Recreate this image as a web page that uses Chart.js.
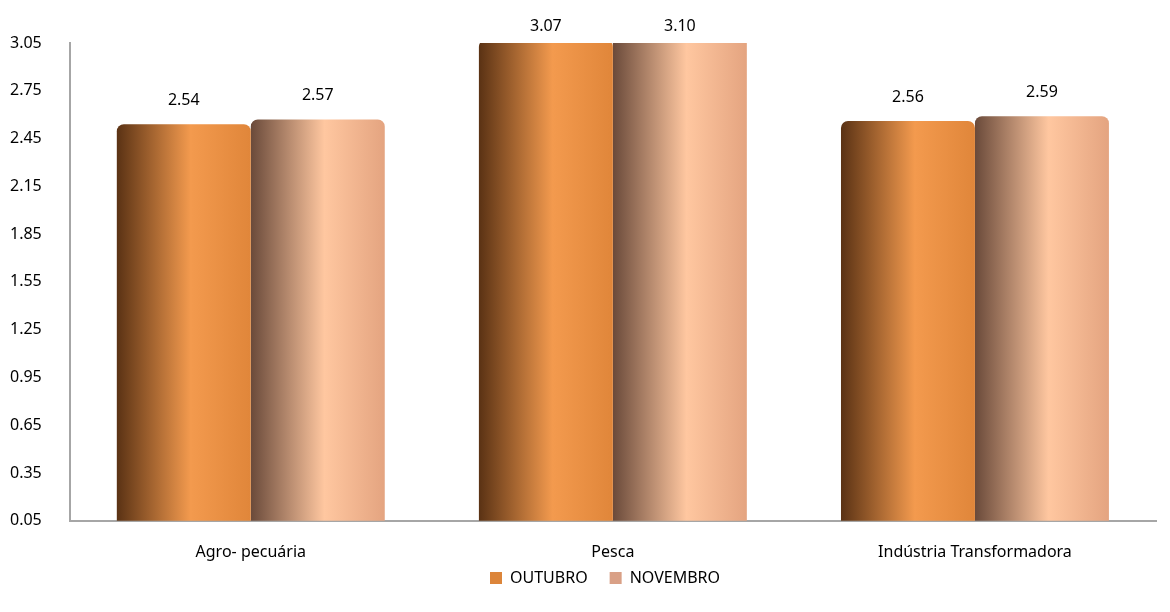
<!DOCTYPE html>
<html>
<head>
<meta charset="utf-8">
<script src="https://cdn.jsdelivr.net/npm/chart.js@4/dist/chart.umd.min.js"></script>
<style>
  html, body { margin: 0; padding: 0; background: #fff; }
  #wrap { position: relative; width: 1170px; height: 612px; }
</style>
</head>
<body>
<div id="wrap"><canvas id="chart"></canvas></div>
<script>
const categories = ['Agro- pecuária', 'Pesca', 'Indústria Transformadora'];
const outubro = [2.54, 3.07, 2.56];
const novembro = [2.57, 3.10, 2.59];
const yTicks = [0.05, 0.35, 0.65, 0.95, 1.25, 1.55, 1.85, 2.15, 2.45, 2.75, 3.05];

const CAT_PCT = 0.74;
const X_CUT = 28;
const LEGEND_SHIFT = 32;
const FONT = '"Noto Sans", sans-serif';
// left edge, middle, right edge of each series' cylinder look
const shades = [
  ['#5a3214', '#f39a4e', '#e0863a'],
  ['#6a4a3a', '#ffc7a0', '#e4a480']
];

function barGradient(ctx) {
  const chart = ctx.chart;
  const xs = chart.scales.x;
  if (!xs || !chart.chartArea) return shades[ctx.datasetIndex][1];
  const catW = xs.width / categories.length;
  const barW = catW * CAT_PCT / 2;
  const left = xs.getPixelForValue(ctx.dataIndex) - catW * CAT_PCT / 2 + ctx.datasetIndex * barW;
  const g = chart.ctx.createLinearGradient(left, 0, left + barW, 0);
  const s = shades[ctx.datasetIndex];
  g.addColorStop(0, s[0]);
  g.addColorStop(0.55, s[1]);
  g.addColorStop(1, s[2]);
  return g;
}

// value labels above the bars
const valueLabels = {
  id: 'valueLabels',
  afterDatasetsDraw(chart) {
    const c = chart.ctx;
    const top = chart.chartArea.top;
    c.save();
    c.font = '16px ' + FONT;
    c.fillStyle = '#000';
    c.textAlign = 'center';
    c.textBaseline = 'middle';
    chart.data.datasets.forEach((ds, di) => {
      chart.getDatasetMeta(di).data.forEach((el, i) => {
        const y = el.y < top ? top - 17 : el.y - 24;
        c.fillText(ds.data[i].toFixed(2), el.x, y);
      });
    });
    c.restore();
  }
};

// x axis was shortened so the legend sits close; give its labels room again,
// and centre the legend under the plot rather than the canvas
const layoutTweaks = {
  id: 'layoutTweaks',
  afterLayout(chart) {
    chart.scales.x.bottom += X_CUT;
    chart.legend.left += LEGEND_SHIFT;
    chart.legend.right += LEGEND_SHIFT;
  }
};

new Chart(document.getElementById('chart'), {
  type: 'bar',
  data: {
    labels: categories,
    datasets: [
      { label: 'OUTUBRO', data: outubro, backgroundColor: barGradient, legendColor: '#dc853a' },
      { label: 'NOVEMBRO', data: novembro, backgroundColor: barGradient, legendColor: '#d9a086' }
    ]
  },
  options: {
    responsive: true,
    maintainAspectRatio: false,
    animation: false,
    layout: { padding: { top: 43, right: 14, left: -10, bottom: 16 } },
    datasets: {
      bar: {
        categoryPercentage: CAT_PCT,
        barPercentage: 1,
        borderRadius: { topLeft: 7, topRight: 7 },
        borderSkipped: 'bottom'
      }
    },
    scales: {
      x: {
        grid: { display: false },
        border: { display: true, color: '#a6a6a6', width: 2 },
        ticks: { color: '#000', font: { family: 'Noto Sans', size: 16 }, padding: 14 },
        afterFit: axis => { axis.height -= X_CUT; }
      },
      y: {
        min: 0.05,
        max: 3.05,
        afterBuildTicks: axis => { axis.ticks = yTicks.map(v => ({ value: v })); },
        grid: { display: false },
        border: { display: true, color: '#a6a6a6', width: 2 },
        ticks: {
          color: '#000',
          font: { family: 'Noto Sans', size: 16 },
          padding: 20,
          callback: v => Number(v).toFixed(2)
        }
      }
    },
    plugins: {
      tooltip: { enabled: false },
      legend: {
        position: 'bottom',
        labels: {
          color: '#000',
          font: { family: 'Noto Sans', size: 16 },
          boxWidth: 12,
          boxHeight: 12,
          padding: 22,
          generateLabels: chart => chart.data.datasets.map((ds, i) => ({
            text: ds.label,
            fillStyle: ds.legendColor,
            strokeStyle: ds.legendColor,
            lineWidth: 0,
            datasetIndex: i,
            fontColor: '#000'
          }))
        }
      }
    }
  },
  plugins: [valueLabels, layoutTweaks]
});
</script>
</body>
</html>
